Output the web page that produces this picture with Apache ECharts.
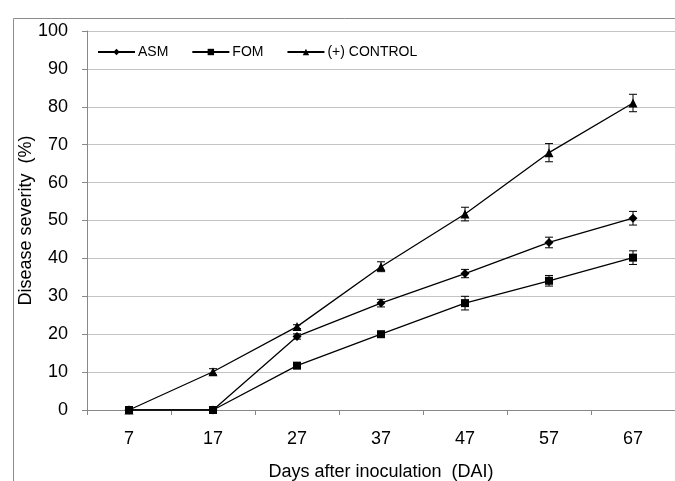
<!DOCTYPE html>
<html><head><meta charset="utf-8">
<script src="https://cdn.jsdelivr.net/npm/echarts@6/dist/echarts.min.js"></script>
<style>html,body{margin:0;padding:0;background:#fff}#c{width:675px;height:481px}</style>
</head><body><div id="c"></div>
<script>
const days = ['7', '17', '27', '37', '47', '57', '67'];
const asm = [0, 0, 19.4, 28.2, 36, 44.2, 50.6];
const fom = [0, 0, 11.7, 20, 28.2, 34.1, 40.2];
const control = [0, 10.1, 22, 37.8, 51.7, 67.9, 81];
const asmErr = [0, 0, 0.7, 1.0, 1.1, 1.4, 1.8];
const fomErr = [0, 0, 0.4, 0.3, 1.8, 1.4, 1.8];
const controlErr = [0, 0.8, 0.5, 1.3, 1.8, 2.4, 2.3];

const FONT = 'Liberation Sans, Arial, sans-serif';

function errSeries(vals, errs) {
  return {
    type: 'custom', silent: true, z: 4,
    renderItem: function (params, api) {
      const i = api.value(0), v = api.value(1), e = api.value(2);
      if (!e) return null;
      const t = api.coord([i, v + e]), b = api.coord([i, v - e]);
      const hw = 4;
      const st = { stroke: '#000', lineWidth: 1 };
      return { type: 'group', children: [
        { type: 'line', shape: { x1: t[0], y1: t[1], x2: b[0], y2: b[1] }, style: st },
        { type: 'line', shape: { x1: t[0] - hw, y1: t[1], x2: t[0] + hw, y2: t[1] }, style: st },
        { type: 'line', shape: { x1: b[0] - hw, y1: b[1], x2: b[0] + hw, y2: b[1] }, style: st }
      ]};
    },
    data: vals.map((v, i) => [i, v, errs[i]])
  };
}

function lineSeries(name, vals, symbol, size) {
  return {
    name: name, type: 'line', data: vals, symbol: symbol, symbolSize: size,
    showAllSymbol: true, z: 5,
    lineStyle: { color: '#000', width: 1.3 },
    itemStyle: { color: '#000' }
  };
}

const chart = echarts.init(document.getElementById('c'), null, { renderer: 'canvas' });
chart.setOption({
  animation: false,
  backgroundColor: '#fff',
  textStyle: { fontFamily: FONT },
  graphic: [{
    type: 'rect', left: 11, top: 16, shape: { width: 700, height: 500 },
    style: { fill: 'none', stroke: '#8c8c8c', lineWidth: 1 }, silent: true, z: 0
  }],
  legend: {
    left: 92, top: 40, itemWidth: 37, itemHeight: 8, itemGap: 23,
    data: ['ASM', 'FOM', '(+) CONTROL'],
    textStyle: { fontFamily: FONT, fontSize: 14, color: '#000', padding: [0, 0, 0, -2] }
  },
  grid: { left: 87, top: 31, right: 0, bottom: 71, containLabel: false, outerBoundsMode: 'none' },
  xAxis: {
    type: 'category', data: days, boundaryGap: true,
    name: 'Days after inoculation  (DAI)', nameLocation: 'middle', nameGap: 53,
    nameMoveOverlap: false,
    nameTextStyle: { fontFamily: FONT, fontSize: 18, color: '#000' },
    axisLine: { lineStyle: { color: '#888', width: 1 } },
    axisTick: { show: true, length: 5, inside: false, interval: 0, lineStyle: { color: '#888' } },
    axisLabel: { fontFamily: FONT, fontSize: 18, color: '#000', margin: 20, interval: 0 },
    splitLine: { show: false }
  },
  yAxis: {
    type: 'value', min: 0, max: 100, interval: 10,
    name: 'Disease severity  (%)', nameLocation: 'middle', nameGap: 52, nameRotate: 90,
    nameMoveOverlap: false,
    nameTextStyle: { fontFamily: FONT, fontSize: 18, color: '#000' },
    axisLine: { show: true, lineStyle: { color: '#888', width: 1 } },
    axisTick: { show: true, length: 5, lineStyle: { color: '#888' } },
    axisLabel: { fontFamily: FONT, fontSize: 18, color: '#000', margin: 19 },
    splitLine: { show: true, lineStyle: { color: '#c4c4c4', width: 1 } }
  },
  series: [
    lineSeries('ASM', asm, 'diamond', 9),
    lineSeries('FOM', fom, 'rect', 8),
    lineSeries('(+) CONTROL', control, 'triangle', 9),
    errSeries(asm, asmErr),
    errSeries(fom, fomErr),
    errSeries(control, controlErr)
  ]
});
</script>
</body></html>
